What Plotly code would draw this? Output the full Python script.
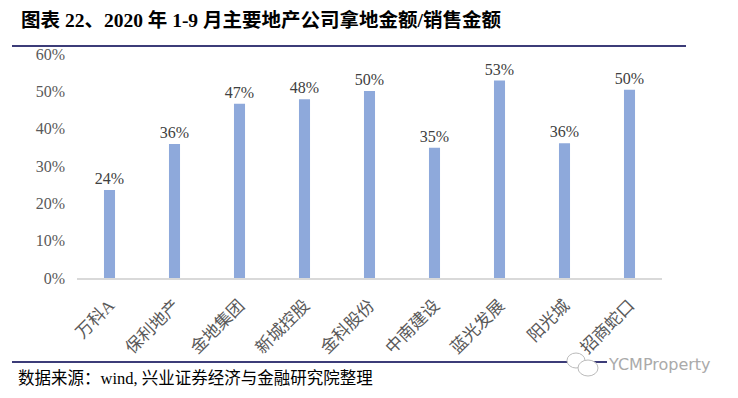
import plotly.graph_objects as go

categories = ["万科A", "保利地产", "金地集团", "新城控股", "金科股份", "中南建设", "蓝光发展", "阳光城", "招商蛇口"]
ratio = [0.236, 0.359, 0.467, 0.479, 0.501, 0.349, 0.529, 0.361, 0.504]
y_ticks = [0, 0.1, 0.2, 0.3, 0.4, 0.5, 0.6]

OFF = 8  # page body margin
W, H = 738 - OFF, 398 - OFF
L, R, T, B = 77 - OFF, 662 - OFF, 54 - OFF, 278 - OFF  # plot area in pixels

def px(x):
    return (x - OFF - L) / (R - L)

def py(y):
    return (B - (y - OFF)) / (B - T)

SERIF = "Liberation Serif, Times New Roman, Noto Sans CJK SC, serif"

fig = go.Figure()
fig.add_trace(go.Bar(
    x=categories, y=ratio,
    marker=dict(color="#8EA9DB", line=dict(width=0)),
    width=0.17,
    text=[f"{round(v*100)}%" for v in ratio],
    textposition="outside",
    constraintext="none",
    textfont=dict(family=SERIF, size=16, color="#404040"),
    cliponaxis=False,
))

fig.update_layout(
    width=W, height=H,
    margin=dict(l=L, r=W - R, t=T, b=H - B),
    paper_bgcolor="white", plot_bgcolor="white",
    showlegend=False,
    xaxis=dict(
        showline=True, linecolor="#D9D9D9", linewidth=1.5,
        showgrid=False, ticks="", tickangle=-45,
        tickfont=dict(family=SERIF, size=17, color="#595959"),
        ticklabelstandoff=9,
    ),
    yaxis=dict(
        range=[0, 0.6], tickvals=y_ticks, tickformat=".0%",
        showgrid=False, zeroline=False, showline=False, ticks="",
        tickfont=dict(family=SERIF, size=16, color="#595959"),
        ticklabelstandoff=11,
    ),
)

# Title
fig.add_annotation(
    text="<b>图表 22、2020 年 1-9 月主要地产公司拿地金额/销售金额</b>",
    xref="paper", yref="paper", x=px(19), y=py(20),
    xanchor="left", yanchor="middle", showarrow=False,
    font=dict(family=SERIF, size=19.5, color="#000000"),
)
# Title underline
fig.add_shape(type="line", xref="paper", yref="paper",
              x0=px(12), x1=px(686), y0=py(46), y1=py(46),
              line=dict(color="#3C3C78", width=2))
# Bottom line
fig.add_shape(type="line", xref="paper", yref="paper",
              x0=px(12), x1=px(607), y0=py(362), y1=py(362),
              line=dict(color="#3C3C78", width=2))
# Source
fig.add_annotation(
    text="数据来源：wind, 兴业证券经济与金融研究院整理",
    xref="paper", yref="paper", x=px(16), y=py(378),
    xanchor="left", yanchor="middle", showarrow=False,
    font=dict(family=SERIF, size=16.5, color="#000000"),
)
# Watermark
fig.add_shape(type="circle", xref="paper", yref="paper",
              x0=px(567), x1=px(585), y0=py(368), y1=py(353),
              line=dict(color="#BBBBBB", width=1), fillcolor="white")
fig.add_shape(type="circle", xref="paper", yref="paper",
              x0=px(578), x1=px(598), y0=py(376), y1=py(360),
              line=dict(color="#BBBBBB", width=1), fillcolor="white")
fig.add_annotation(
    text="YCMProperty",
    xref="paper", yref="paper", x=px(606), y=py(364),
    xanchor="left", yanchor="middle", showarrow=False,
    font=dict(family="DejaVu Sans, sans-serif", size=16, color="#AAAAAA"),
)

fig.write_html("out.html")
